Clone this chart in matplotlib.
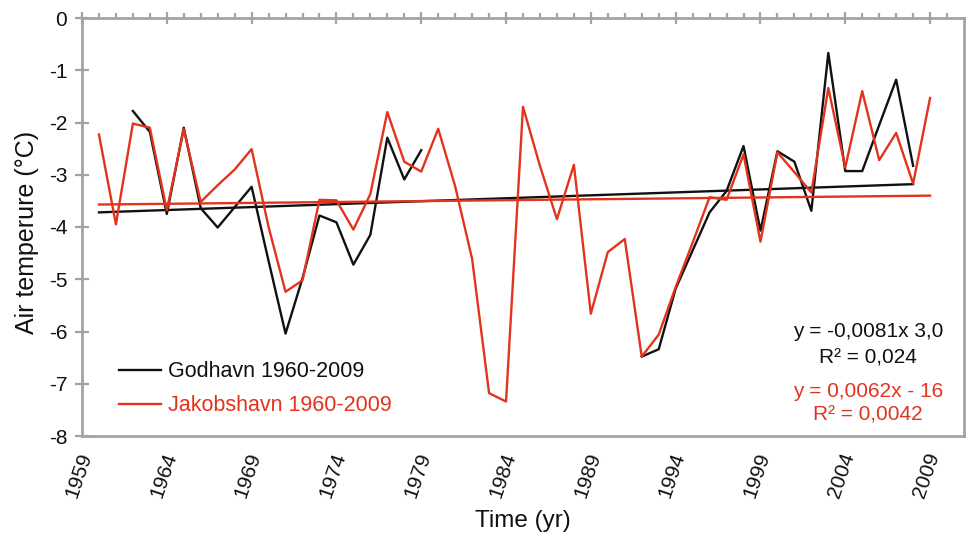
import numpy as np
import matplotlib
matplotlib.use("Agg")
import matplotlib.pyplot as plt
from matplotlib.transforms import ScaledTranslation

plt.rcParams['font.family'] = ['Liberation Sans', 'DejaVu Sans']

years = list(range(1960, 2010))
nan = np.nan
godhavn = [nan, nan, -1.78, -2.18, -3.75, -2.10, -3.64, -4.01, -3.62, -3.23,
           -4.65, -6.04, -4.98, -3.78, -3.91, -4.72, -4.15, -2.29, -3.09, -2.53,
           nan, nan, nan, nan, nan, nan, nan, nan, nan, nan,
           nan, nan, -6.48, -6.34, -5.18, -4.45, -3.72, -3.31, -2.45, -4.07,
           -2.55, -2.75, -3.69, -0.67, -2.93, -2.93, -2.05, -1.18, -2.83, nan]
jakobshavn = [-2.23, -3.95, -2.02, -2.10, -3.68, -2.13, -3.52, -3.20, -2.90, -2.51,
              -4.00, -5.24, -5.02, -3.48, -3.49, -4.05, -3.37, -1.80, -2.75, -2.94,
              -2.12, -3.22, -4.61, -7.18, -7.34, -1.70, -2.83, -3.85, -2.81, -5.66,
              -4.48, -4.23, -6.48, -6.06, -5.15, -4.30, -3.43, -3.48, -2.61, -4.28,
              -2.57, -2.95, -3.34, -1.34, -2.86, -1.40, -2.72, -2.20, -3.17, -1.53]
trend_godhavn_x = [1960, 2008]
trend_godhavn_y = [-3.72, -3.18]
trend_jakob_x = [1960, 2009]
trend_jakob_y = [-3.57, -3.40]
xticks = list(range(1959, 2010, 5))
yticks = list(range(-8, 1))

RED = '#e2341c'
BLACK = '#111111'
GRAY = '#a3a3a3'

fig = plt.figure(figsize=(9.67, 5.36), dpi=100)
ax = fig.add_axes([82/967, 1-436/536, (964-82)/967, (436-18)/536])

ax.plot(years, godhavn, color=BLACK, lw=1.7, label='Godhavn 1960-2009', zorder=3)
ax.plot(years, jakobshavn, color=RED, lw=1.7, label='Jakobshavn 1960-2009', zorder=4)
ax.plot(trend_godhavn_x, trend_godhavn_y, color=BLACK, lw=1.7, zorder=3)
ax.plot(trend_jakob_x, trend_jakob_y, color=RED, lw=1.7, zorder=4)

ax.set_xlim(1959, 2011)
ax.set_ylim(-8, 0)
ax.set_xticks(xticks)
ax.set_xticks(range(1959, 2011), minor=True)
ax.set_yticks(yticks)
ax.set_xticklabels([str(v) for v in xticks], rotation=71, ha='center', fontsize=15)
ax.set_yticklabels([str(v) for v in yticks], fontsize=15)

for s in ax.spines.values():
    s.set_color(GRAY)
    s.set_linewidth(2.0)

ax.tick_params(axis='x', which='major', top=True, bottom=False, labeltop=False,
               labelbottom=True, direction='inout', length=8, width=1.6,
               color=GRAY, pad=6, labelcolor='#111111')
ax.tick_params(axis='x', which='minor', top=True, bottom=False,
               direction='out', length=3.5, width=1.6, color=GRAY)
ax.tick_params(axis='y', which='major', left=True, right=False,
               direction='inout', length=9.4, width=1.6, color=GRAY, pad=6,
               labelcolor='#111111')

off = ScaledTranslation(-3.5/100, 0, fig.dpi_scale_trans)
for lab in ax.get_xticklabels():
    lab.set_transform(lab.get_transform() + off)

ax.set_xlabel('Time (yr)', fontsize=17.5, color='#111111', labelpad=7)
ax.set_ylabel('Air temperure (°C)', fontsize=18, color='#111111', labelpad=7)
ax.yaxis.label.set_y(0.488)

leg = ax.legend(loc='center left', bbox_to_anchor=(0.042, 0.113), frameon=False,
                fontsize=15.5, handlelength=1.95, handletextpad=0.33,
                labelspacing=0.62, borderpad=0, borderaxespad=0,
                labelcolor='linecolor')

ax.text(2005.35, -6.0, 'y = -0,0081x 3,0', color=BLACK, fontsize=15,
        ha='center', va='center')
ax.text(2005.35, -6.5, 'R² = 0,024', color=BLACK, fontsize=15,
        ha='center', va='center')
ax.text(2005.35, -7.14, 'y = 0,0062x - 16', color=RED, fontsize=15,
        ha='center', va='center')
ax.text(2005.35, -7.6, 'R² = 0,0042', color=RED, fontsize=15,
        ha='center', va='center')

fig.savefig('out.png', dpi=100)
